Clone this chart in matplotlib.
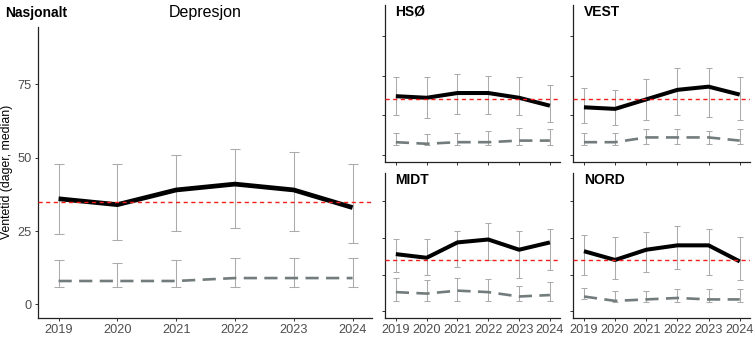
import matplotlib
matplotlib.use("Agg")
import matplotlib.pyplot as plt

plt.rcParams["font.family"] = ["Liberation Sans", "DejaVu Sans"]

YEARS = [2019, 2020, 2021, 2022, 2023, 2024]
REF_LINE = 35

# Nasjonalt
nat_med = [36, 34, 39, 41, 39, 33]
nat_lo = [24, 22, 25, 26, 25, 21]
nat_hi = [48, 48, 51, 53, 52, 48]
nat_p_med = [8, 8, 8, 9, 9, 9]
nat_p_lo = [6, 6, 6, 6, 6, 6]
nat_p_hi = [15, 14, 15, 16, 16, 16]

# HSØ
hso_med = [37, 36, 39, 39, 36, 31]
hso_lo = [25, 23, 26, 26, 25, 21]
hso_hi = [49, 49, 51, 50, 49, 44]
hso_p_med = [8, 7, 8, 8, 9, 9]
hso_p_lo = [6, 6, 6, 6, 6, 6]
hso_p_hi = [14, 13, 14, 15, 17, 16]

# VEST
vest_med = [30, 29, 35, 41, 43, 38]
vest_lo = [20, 19, 22, 25, 24, 22]
vest_hi = [42, 41, 48, 55, 55, 49]
vest_p_med = [8, 8, 11, 11, 11, 9]
vest_p_lo = [6, 6, 7, 7, 7, 7]
vest_p_hi = [14, 14, 16, 16, 15, 16]

# MIDT
midt_med = [39, 36.5, 47, 49, 42, 47]
midt_lo = [27, 25, 30, 35, 23, 28]
midt_hi = [49, 49, 55, 60, 55, 56]
midt_p_med = [13, 12, 14, 13, 10, 11]
midt_p_lo = [7, 7, 7, 7, 7, 7]
midt_p_hi = [23, 21, 23, 22, 17, 20]

# NORD
nord_med = [41, 35, 42, 45, 45, 34]
nord_lo = [25, 22, 27, 29, 25, 21]
nord_hi = [52, 51, 54, 58, 56, 51]
nord_p_med = [10, 7, 8, 9, 8, 8]
nord_p_lo = [8, 6, 6, 6, 6, 6]
nord_p_hi = [16, 14, 14, 15, 15, 15]

YTICKS = [0, 25, 50, 75]
TICK_GREY = "#4D4D4D"
BAR_GREY = "#ABABAB"
DASH_GREY = "#737C7C"


def draw_panel(ax, med, lo, hi, p_med, p_lo, p_hi, big=False,
               xlabels=True, ylabels=False, name=None):
    cap = 3.6 if big else 2.2
    lw_main = 3.4 if big else 2.9
    for m, l, h in ((med, lo, hi), (p_med, p_lo, p_hi)):
        yerr = [[mm - ll for mm, ll in zip(m, l)], [hh - mm for mm, hh in zip(m, h)]]
        ax.errorbar(YEARS, m, yerr=yerr, fmt="none", ecolor=BAR_GREY,
                    elinewidth=0.75, capsize=cap, capthick=0.75, zorder=1)
    ax.plot(YEARS, med, color="black", lw=lw_main, solid_capstyle="butt", zorder=3)
    ax.plot(YEARS, p_med, color=DASH_GREY, lw=1.9, dashes=(5, 2.8), zorder=2)
    ax.axhline(REF_LINE, color="#F02020", lw=1.0, dashes=(3, 2.5), zorder=4)

    ax.set_xlim(2018.65, 2024.33)
    ax.set_ylim(-4.5, 94.5)
    ax.set_xticks(YEARS)
    ax.set_yticks(YTICKS)
    for side in ("top", "right"):
        ax.spines[side].set_visible(False)
    for side in ("left", "bottom"):
        ax.spines[side].set_linewidth(0.9)
        ax.spines[side].set_color("#222222")
    ax.tick_params(length=2.5, width=0.7, color="#333333",
                   labelsize=9.2, labelcolor=TICK_GREY, pad=2)
    if not xlabels:
        ax.set_xticklabels([])
    if not ylabels:
        ax.set_yticklabels([])
    if name:
        ax.text(0.06, 1.0, name, transform=ax.transAxes, fontsize=10,
                fontweight="bold", va="top", ha="left")


def main():
    fig = plt.figure(figsize=(7.55, 3.4), dpi=100)

    ax_nat = fig.add_axes([0.0503, 0.0656, 0.4424, 0.855])
    ax_hso = fig.add_axes([0.510, 0.5235, 0.2318, 0.4618])
    ax_vest = fig.add_axes([0.759, 0.5235, 0.2344, 0.4618])
    ax_midt = fig.add_axes([0.510, 0.0656, 0.2318, 0.4256])
    ax_nord = fig.add_axes([0.759, 0.0656, 0.2344, 0.4256])

    draw_panel(ax_nat, nat_med, nat_lo, nat_hi, nat_p_med, nat_p_lo, nat_p_hi,
               big=True, ylabels=True)
    ax_nat.set_ylabel("Ventetid (dager, median)", fontsize=8.8, labelpad=3)

    draw_panel(ax_hso, hso_med, hso_lo, hso_hi, hso_p_med, hso_p_lo, hso_p_hi,
               xlabels=False, name="HSØ")
    draw_panel(ax_vest, vest_med, vest_lo, vest_hi, vest_p_med, vest_p_lo, vest_p_hi,
               xlabels=False, name="VEST")
    draw_panel(ax_midt, midt_med, midt_lo, midt_hi, midt_p_med, midt_p_lo, midt_p_hi,
               name="MIDT")
    draw_panel(ax_nord, nord_med, nord_lo, nord_hi, nord_p_med, nord_p_lo, nord_p_hi,
               name="NORD")

    fig.text(5 / 755, 1 - 13 / 340, "Nasjonalt", fontsize=10, fontweight="bold",
             va="center", ha="left")
    fig.text(205 / 755, 1 - 13 / 340, "Depresjon", fontsize=11.5,
             va="center", ha="center")

    fig.savefig("out.png", dpi=100)
    plt.close(fig)


if __name__ == "__main__":
    main()
